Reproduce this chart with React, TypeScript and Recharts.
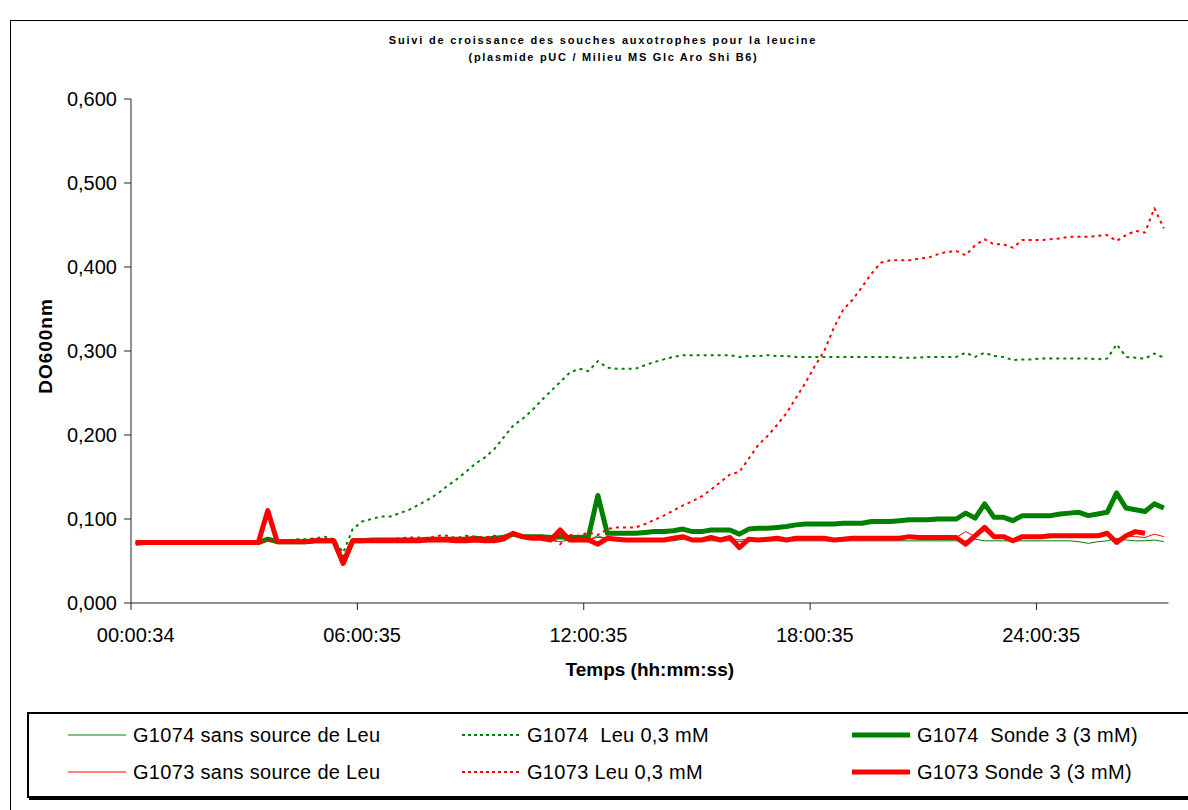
import { Line, LineChart, XAxis, YAxis } from 'recharts'

const GREEN = '#008000'
const RED = '#FF0000'
const FONT = '"Liberation Sans", Arial, sans-serif'

// 110 mesures, toutes les 15 min à partir de 00:00:34
const start = 34
const pas = 900
const temps = Array.from({ length: 110 }, (_, i) => {
  const s = start + i * pas + (i > 0 ? 1 : 0)
  const hh = String(Math.floor(s / 3600)).padStart(2, '0')
  const mm = String(Math.floor((s % 3600) / 60)).padStart(2, '0')
  const ss = String(s % 60).padStart(2, '0')
  return `${hh}:${mm}:${ss}`
})

const g1074Sans = [
  0.071, 0.072, 0.072, 0.072, 0.072, 0.072, 0.072, 0.072, 0.072, 0.072,
  0.072, 0.072, 0.072, 0.072, 0.075, 0.073, 0.073, 0.073, 0.074, 0.074,
  0.074, 0.073, 0.050, 0.073, 0.073, 0.074, 0.074, 0.074, 0.074, 0.074,
  0.074, 0.075, 0.075, 0.075, 0.074, 0.075, 0.075, 0.074, 0.075, 0.076,
  0.081, 0.077, 0.076, 0.076, 0.075, 0.073, 0.075, 0.075, 0.075, 0.080,
  0.076, 0.075, 0.075, 0.074, 0.074, 0.074, 0.074, 0.074, 0.076, 0.074,
  0.074, 0.074, 0.074, 0.074, 0.073, 0.074, 0.074, 0.074, 0.074, 0.074,
  0.074, 0.074, 0.074, 0.074, 0.074, 0.074, 0.074, 0.074, 0.074, 0.074,
  0.074, 0.074, 0.074, 0.074, 0.074, 0.074, 0.074, 0.074, 0.074, 0.076,
  0.074, 0.074, 0.074, 0.074, 0.074, 0.074, 0.074, 0.074, 0.074, 0.074,
  0.073, 0.071, 0.073, 0.074, 0.077, 0.075, 0.074, 0.074, 0.075, 0.073,
]

const g1074Leu = [
  0.071, 0.072, 0.072, 0.072, 0.072, 0.072, 0.072, 0.072, 0.072, 0.072,
  0.072, 0.072, 0.072, 0.072, 0.074, 0.074, 0.074, 0.076, 0.076, 0.077,
  0.079, 0.076, 0.060, 0.088, 0.097, 0.100, 0.103, 0.103, 0.107, 0.111,
  0.117, 0.123, 0.130, 0.139, 0.147, 0.156, 0.166, 0.173, 0.183, 0.197,
  0.211, 0.219, 0.229, 0.241, 0.252, 0.263, 0.274, 0.279, 0.276, 0.288,
  0.280, 0.279, 0.279, 0.279, 0.283, 0.287, 0.290, 0.293, 0.295, 0.295,
  0.295, 0.295, 0.295, 0.295, 0.293, 0.294, 0.294, 0.295, 0.294, 0.294,
  0.293, 0.293, 0.293, 0.293, 0.293, 0.293, 0.293, 0.293, 0.293, 0.293,
  0.293, 0.292, 0.292, 0.292, 0.293, 0.293, 0.293, 0.293, 0.298, 0.293,
  0.298, 0.294, 0.293, 0.289, 0.290, 0.290, 0.291, 0.291, 0.291, 0.291,
  0.291, 0.291, 0.290, 0.291, 0.308, 0.293, 0.292, 0.291, 0.297, 0.292,
]

const g1074Sonde = [
  0.071, 0.072, 0.072, 0.072, 0.072, 0.072, 0.072, 0.072, 0.072, 0.072,
  0.072, 0.072, 0.072, 0.072, 0.076, 0.073, 0.073, 0.073, 0.073, 0.074,
  0.074, 0.074, 0.048, 0.074, 0.074, 0.075, 0.075, 0.075, 0.075, 0.075,
  0.075, 0.076, 0.076, 0.076, 0.076, 0.076, 0.077, 0.076, 0.077, 0.078,
  0.082, 0.079, 0.079, 0.079, 0.078, 0.079, 0.078, 0.078, 0.079, 0.128,
  0.083, 0.083, 0.083, 0.083, 0.084, 0.085, 0.085, 0.086, 0.088, 0.085,
  0.085, 0.087, 0.087, 0.087, 0.082, 0.088, 0.089, 0.089, 0.090, 0.091,
  0.093, 0.094, 0.094, 0.094, 0.094, 0.095, 0.095, 0.095, 0.097, 0.097,
  0.097, 0.098, 0.099, 0.099, 0.099, 0.100, 0.100, 0.100, 0.107, 0.101,
  0.118, 0.102, 0.102, 0.098, 0.104, 0.104, 0.104, 0.104, 0.106, 0.107,
  0.108, 0.104, 0.106, 0.108, 0.131, 0.113, 0.111, 0.109, 0.118, 0.113,
]

const g1073Sans = [
  0.072, 0.072, 0.072, 0.072, 0.072, 0.072, 0.072, 0.072, 0.072, 0.072,
  0.072, 0.072, 0.072, 0.072, 0.074, 0.073, 0.073, 0.073, 0.073, 0.074,
  0.074, 0.074, 0.050, 0.074, 0.074, 0.074, 0.075, 0.075, 0.075, 0.075,
  0.075, 0.076, 0.075, 0.075, 0.074, 0.075, 0.076, 0.075, 0.075, 0.076,
  0.082, 0.078, 0.077, 0.077, 0.076, 0.080, 0.076, 0.075, 0.076, 0.078,
  0.077, 0.076, 0.076, 0.076, 0.076, 0.076, 0.076, 0.077, 0.079, 0.076,
  0.076, 0.077, 0.076, 0.077, 0.075, 0.076, 0.076, 0.076, 0.077, 0.076,
  0.077, 0.077, 0.077, 0.077, 0.076, 0.077, 0.077, 0.077, 0.077, 0.078,
  0.077, 0.078, 0.079, 0.078, 0.078, 0.078, 0.078, 0.078, 0.085, 0.079,
  0.086, 0.079, 0.079, 0.076, 0.079, 0.079, 0.079, 0.080, 0.080, 0.080,
  0.080, 0.079, 0.080, 0.081, 0.076, 0.080, 0.079, 0.078, 0.082, 0.079,
]

const g1073Leu = [
  0.072, 0.072, 0.072, 0.072, 0.072, 0.072, 0.072, 0.072, 0.072, 0.072,
  0.072, 0.072, 0.072, 0.072, 0.074, 0.073, 0.074, 0.075, 0.075, 0.076,
  0.076, 0.075, 0.055, 0.074, 0.075, 0.075, 0.076, 0.076, 0.077, 0.078,
  0.078, 0.077, 0.080, 0.080, 0.077, 0.080, 0.079, 0.078, 0.080, 0.079,
  0.083, 0.079, 0.080, 0.080, 0.078, 0.070, 0.081, 0.080, 0.084, 0.081,
  0.088, 0.090, 0.090, 0.090, 0.094, 0.099, 0.104, 0.110, 0.116, 0.121,
  0.127, 0.135, 0.144, 0.153, 0.156, 0.172, 0.188, 0.199, 0.212, 0.226,
  0.244, 0.262, 0.282, 0.300, 0.327, 0.349, 0.361, 0.376, 0.392, 0.405,
  0.408, 0.408, 0.408, 0.410, 0.411, 0.415, 0.418, 0.419, 0.414, 0.426,
  0.433, 0.427, 0.427, 0.423, 0.432, 0.432, 0.432, 0.433, 0.434, 0.436,
  0.436, 0.436, 0.437, 0.438, 0.431, 0.438, 0.443, 0.441, 0.470, 0.446,
]

const g1073Sonde = [
  0.072, 0.072, 0.072, 0.072, 0.072, 0.072, 0.072, 0.072, 0.072, 0.072,
  0.072, 0.072, 0.072, 0.072, 0.110, 0.073, 0.073, 0.073, 0.073, 0.074,
  0.074, 0.074, 0.047, 0.074, 0.074, 0.074, 0.074, 0.074, 0.074, 0.074,
  0.074, 0.075, 0.075, 0.075, 0.074, 0.074, 0.075, 0.074, 0.074, 0.076,
  0.083, 0.079, 0.077, 0.077, 0.075, 0.087, 0.075, 0.075, 0.075, 0.070,
  0.077, 0.076, 0.075, 0.075, 0.075, 0.075, 0.075, 0.077, 0.079, 0.075,
  0.075, 0.078, 0.075, 0.078, 0.066, 0.076, 0.075, 0.076, 0.077, 0.075,
  0.077, 0.077, 0.077, 0.077, 0.075, 0.076, 0.077, 0.077, 0.077, 0.077,
  0.077, 0.077, 0.079, 0.078, 0.078, 0.078, 0.078, 0.078, 0.070, 0.080,
  0.090, 0.079, 0.079, 0.074, 0.079, 0.079, 0.079, 0.080, 0.080, 0.080,
  0.080, 0.080, 0.080, 0.083, 0.072, 0.080, 0.085, 0.083, null, null,
]

const yTicks = [0, 0.1, 0.2, 0.3, 0.4, 0.5, 0.6]

const series = [
  { key: 'g1074Sans', label: 'G1074 sans source de Leu', color: GREEN, width: 1, dash: undefined, values: g1074Sans },
  { key: 'g1074Leu', label: 'G1074  Leu 0,3 mM', color: GREEN, width: 2, dash: '3 4', values: g1074Leu },
  { key: 'g1074Sonde', label: 'G1074  Sonde 3 (3 mM)', color: GREEN, width: 5, dash: undefined, values: g1074Sonde },
  { key: 'g1073Sans', label: 'G1073 sans source de Leu', color: RED, width: 1, dash: undefined, values: g1073Sans },
  { key: 'g1073Leu', label: 'G1073 Leu 0,3 mM', color: RED, width: 2, dash: '3 4', values: g1073Leu },
  { key: 'g1073Sonde', label: 'G1073 Sonde 3 (3 mM)', color: RED, width: 5, dash: undefined, values: g1073Sonde },
]

const rows = temps.map((t, i) => {
  const row: Record<string, string | number | null> = { temps: t }
  series.forEach((s) => {
    row[s.key] = s.values[i] ?? null
  })
  return row
})

const HALF = 4.7 // demi-catégorie : les graduations tombent entre deux mesures

function XTick(props: any) {
  const { x, y, payload } = props
  return (
    <g>
      <line x1={x - HALF} x2={x - HALF} y1={y - 25} y2={y - 18} stroke="#222" />
      <text x={x} y={y} dy="0.71em" textAnchor="middle" fontFamily={FONT} fontSize={20} fill="#000">
        {payload.value}
      </text>
    </g>
  )
}

function YTick(props: any) {
  const { x, y, payload } = props
  return (
    <text x={x} y={y} dy="0.36em" textAnchor="end" fontFamily={FONT} fontSize={20} fill="#000">
      {payload.value.toFixed(3).replace('.', ',')}
    </text>
  )
}

function YLabel(props: any) {
  const { viewBox } = props
  const cx = viewBox.x + 45
  const cy = viewBox.y + viewBox.height / 2 - 5
  return (
    <text
      x={cx}
      y={cy}
      transform={`rotate(-90 ${cx} ${cy})`}
      textAnchor="middle"
      dy="0.36em"
      fontFamily={FONT}
      fontSize={19}
      fontWeight="bold"
      letterSpacing={1}
      fill="#000"
    >
      DO600nm
    </text>
  )
}

const legendCols = [68, 462, 852]
const legendRows = [735, 772]

export default function App() {
  return (
    <div style={{ position: 'fixed', inset: 0, overflow: 'hidden', background: '#fff', fontFamily: FONT }}>
      <div
        style={{
          position: 'absolute',
          left: 10,
          top: 20,
          width: 1200,
          height: 820,
          border: '1px solid #000',
        }}
      />
      <div
        style={{
          position: 'absolute',
          left: 0,
          top: 33,
          width: 1206,
          textAlign: 'center',
          fontSize: 11,
          fontWeight: 'bold',
          letterSpacing: 1.8,
          lineHeight: '14px',
        }}
      >
        Suivi de croissance des souches auxotrophes pour la leucine
      </div>
      <div
        style={{
          position: 'absolute',
          left: 0,
          top: 50,
          width: 1227,
          textAlign: 'center',
          fontSize: 11,
          fontWeight: 'bold',
          letterSpacing: 1.7,
          lineHeight: '14px',
        }}
      >
        (plasmide pUC / Milieu MS Glc Aro Shi B6)
      </div>
      <div style={{ position: 'absolute', left: 0, top: 0 }}>
        <LineChart
          width={1188}
          height={810}
          data={rows}
          margin={{ top: 99, right: 19.5, bottom: 127, left: 0 }}
        >
          <XAxis
            dataKey="temps"
            interval={23}
            padding={{ left: HALF, right: HALF }}
            height={80}
            tickSize={7}
            tickMargin={18}
            tickLine={{ stroke: 'none' }}
            axisLine={{ stroke: '#222' }}
            tick={<XTick />}
            label={{
              value: 'Temps (hh:mm:ss)',
              position: 'insideBottom',
              offset: 7,
              style: { fontFamily: FONT, fontSize: 19, fontWeight: 'bold', fill: '#000' },
            }}
          />
          <YAxis
            domain={[0, 0.6]}
            ticks={yTicks}
            width={131}
            tickSize={7}
            tickMargin={7}
            tickLine={{ stroke: '#222' }}
            axisLine={{ stroke: '#222' }}
            tick={<YTick />}
            label={{ content: <YLabel /> }}
          />
          {series.map((s) => (
            <Line
              key={s.key}
              type="linear"
              dataKey={s.key}
              stroke={s.color}
              strokeWidth={s.width}
              strokeDasharray={s.dash}
              strokeLinejoin="round"
              dot={false}
              activeDot={false}
              isAnimationActive={false}
            />
          ))}
        </LineChart>
      </div>
      <div
        style={{
          position: 'absolute',
          left: 27,
          top: 712,
          width: 1200,
          height: 82,
          border: '2px solid #000',
          boxShadow: '2px 2px 0 #000',
        }}
      />
      {series.map((s, i) => {
        const col = legendCols[i % 3]
        const rowY = legendRows[Math.floor(i / 3)]
        return (
          <div key={s.key}>
            <svg style={{ position: 'absolute', left: col, top: rowY - 5 }} width={58} height={10}>
              <line
                x1={0}
                x2={58}
                y1={5}
                y2={5}
                stroke={s.color}
                strokeWidth={s.width}
                strokeDasharray={s.dash ? '3 3' : undefined}
              />
            </svg>
            <div
              style={{
                position: 'absolute',
                left: col + 65,
                top: rowY - 12,
                fontSize: 20,
                letterSpacing: 0.3,
                lineHeight: '24px',
                whiteSpace: 'pre',
              }}
            >
              {s.label}
            </div>
          </div>
        )
      })}
    </div>
  )
}
